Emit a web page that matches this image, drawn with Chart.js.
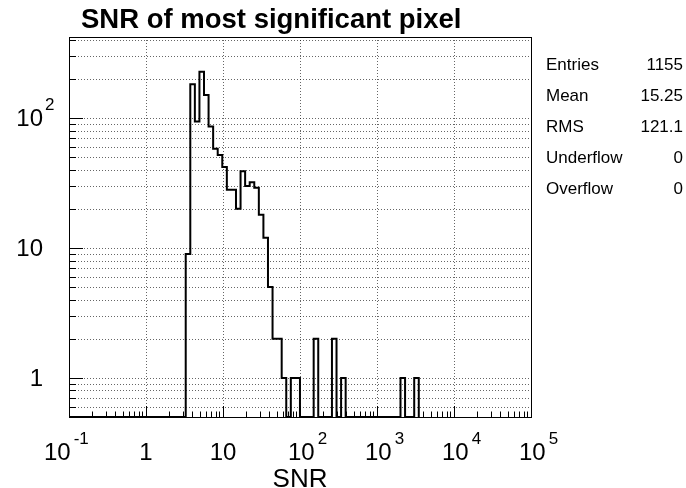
<!DOCTYPE html>
<html>
<head>
<meta charset="utf-8">
<script src="https://cdn.jsdelivr.net/npm/chart.js@4.4.0/dist/chart.umd.min.js"></script>
<style>
  html, body { margin: 0; padding: 0; background: #fff; }
  #wrap { width: 686px; height: 488px; }
</style>
</head>
<body>
<div id="wrap"><canvas id="snrChart" width="686" height="488"></canvas></div>
<script>
// Histogram binning (equal log bins) and counts
const firstEdge = 3.28;        // low edge of the first filled bin
const binsPerDecade = 16.85;
const counts = [9, 182, 94, 227, 150, 86, 58, 52, 42, 28, 28, 20, 39, 30, 32, 29, 18, 12, 5, 2,
                2, 1, 0, 1, 1, 0, 0, 0, 2, 0, 0, 0, 2, 0, 1, 0, 0, 0, 0, 0,
                0, 0, 0, 0, 0, 0, 0, 1, 0, 0, 1];

// Axis ranges and tick labels
const xMin = 0.1, xMax = 100000;
const yMin = 0.5, yMax = 420;
const xTicks = [0.1, 1, 10, 100, 1000, 10000, 100000];
const xTickLabels = [['10', '-1'], ['1', ''], ['10', ''], ['10', '2'], ['10', '3'], ['10', '4'], ['10', '5']];
const yTicks = [1, 10, 100];
const yTickLabels = [['1', ''], ['10', ''], ['10', '2']];

// Stats box
const statNames = ['Entries', 'Mean', 'RMS', 'Underflow', 'Overflow'];
const statValues = ['1155', '15.25', '121.1', '0', '0'];

const FONT = '"Liberation Sans", Arial, Helvetica, sans-serif';

// build the step outline of the histogram
const edges = [];
for (let i = 0; i <= counts.length; i++) {
  edges.push(firstEdge * Math.pow(10, i / binsPerDecade));
}
const stepPoints = [{x: xMin, y: yMin}, {x: edges[0], y: yMin}];
counts.forEach(function(c, i) {
  const v = c > 0 ? c : yMin;
  stepPoints.push({x: edges[i], y: v});
  stepPoints.push({x: edges[i + 1], y: v});
});
stepPoints.push({x: edges[counts.length], y: yMin});

// minor tick values for log axes
function logMinors(lo, hi) {
  const out = [];
  for (let k = -2; k <= 6; k++) {
    for (let m = 1; m <= 9; m++) {
      const v = m * Math.pow(10, k);
      if (v > lo * 1.0001 && v < hi * 0.9999) out.push(v);
    }
  }
  return out;
}

const rootFrame = {
  id: 'rootFrame',
  beforeDatasetsDraw(chart) {
    const ctx = chart.ctx;
    const a = chart.chartArea;
    const xs = chart.scales.x, ys = chart.scales.y;
    ctx.save();
    ctx.strokeStyle = 'rgba(0,0,0,0.6)';
    ctx.lineWidth = 1;
    ctx.setLineDash([1, 2]);
    xTicks.forEach(function(v) {
      const px = Math.round(xs.getPixelForValue(v)) + 0.5;
      if (px <= a.left + 1 || px >= a.right - 1) return;
      ctx.beginPath();
      ctx.moveTo(px, a.top);
      ctx.lineTo(px, a.bottom);
      ctx.stroke();
    });
    logMinors(yMin, yMax).forEach(function(v) {
      const py = Math.round(ys.getPixelForValue(v)) + 0.5;
      ctx.beginPath();
      ctx.moveTo(a.left, py);
      ctx.lineTo(a.right, py);
      ctx.stroke();
    });
    ctx.restore();
  },
  afterDraw(chart) {
    const ctx = chart.ctx;
    const a = chart.chartArea;
    const xs = chart.scales.x, ys = chart.scales.y;
    ctx.save();
    ctx.strokeStyle = '#000';
    ctx.lineWidth = 1;
    ctx.strokeRect(a.left + 0.5, a.top + 0.5, a.right - a.left, a.bottom - a.top);

    // x ticks (inward, bottom)
    logMinors(xMin, xMax).forEach(function(v) {
      const px = Math.round(xs.getPixelForValue(v)) + 0.5;
      const major = Math.abs(Math.log10(v) - Math.round(Math.log10(v))) < 1e-6;
      ctx.beginPath();
      ctx.moveTo(px, a.bottom);
      ctx.lineTo(px, a.bottom - (major ? 11 : 5.5));
      ctx.stroke();
    });
    // y ticks (inward, left)
    logMinors(yMin, yMax).forEach(function(v) {
      const py = Math.round(ys.getPixelForValue(v)) + 0.5;
      const major = Math.abs(Math.log10(v) - Math.round(Math.log10(v))) < 1e-6;
      ctx.beginPath();
      ctx.moveTo(a.left, py);
      ctx.lineTo(a.left + (major ? 14 : 7), py);
      ctx.stroke();
    });

    ctx.fillStyle = '#000';
    ctx.textBaseline = 'alphabetic';

    // x labels
    xTicks.forEach(function(v, i) {
      const px = xs.getPixelForValue(v);
      const base = xTickLabels[i][0], sup = xTickLabels[i][1];
      ctx.font = '24px ' + FONT;
      const w = ctx.measureText(base).width;
      let left;
      if (sup === '') left = px - w / 2;
      else if (sup.charAt(0) === '-') left = px - 25;
      else left = px - 12;
      ctx.textAlign = 'left';
      ctx.fillText(base, left, 460);
      if (sup) {
        ctx.font = '17px ' + FONT;
        ctx.fillText(sup, left + w + 3, 444);
      }
    });

    // y labels
    yTicks.forEach(function(v, i) {
      const py = ys.getPixelForValue(v);
      const base = yTickLabels[i][0], sup = yTickLabels[i][1];
      ctx.font = '24px ' + FONT;
      ctx.textAlign = 'right';
      ctx.fillText(base, 43, py + 8.5);
      if (sup) {
        ctx.font = '17px ' + FONT;
        ctx.textAlign = 'left';
        ctx.fillText(sup, 45, py - 8);
      }
    });

    // axis title
    ctx.font = '26px ' + FONT;
    ctx.textAlign = 'center';
    ctx.fillText('SNR', (a.left + a.right) / 2, 487);

    // histogram title
    ctx.font = 'bold 27.5px ' + FONT;
    ctx.textAlign = 'left';
    ctx.fillText('SNR of most significant pixel', 81, 28);

    // stats box
    ctx.font = '17px ' + FONT;
    statNames.forEach(function(name, i) {
      const by = 70 + i * 31;
      ctx.textAlign = 'left';
      ctx.fillText(name, 546, by);
      ctx.textAlign = 'right';
      ctx.fillText(statValues[i], 683, by);
    });
    ctx.restore();
  }
};

const ctx = document.getElementById('snrChart').getContext('2d');
const snrChart = new Chart(ctx, {
  type: 'line',
  data: {
    datasets: [{
      label: 'SNR',
      data: stepPoints,
      borderColor: '#000',
      borderWidth: 2,
      pointRadius: 0,
      tension: 0,
      fill: false
    }]
  },
  options: {
    responsive: false,
    animation: false,
    devicePixelRatio: 1,
    layout: {
      padding: {left: 69, right: 155, top: 37, bottom: 71}
    },
    scales: {
      x: { type: 'logarithmic', min: xMin, max: xMax, display: false },
      y: { type: 'logarithmic', min: yMin, max: yMax, display: false }
    },
    plugins: {
      legend: { display: false },
      tooltip: { enabled: false }
    }
  },
  plugins: [rootFrame]
});
</script>
</body>
</html>
